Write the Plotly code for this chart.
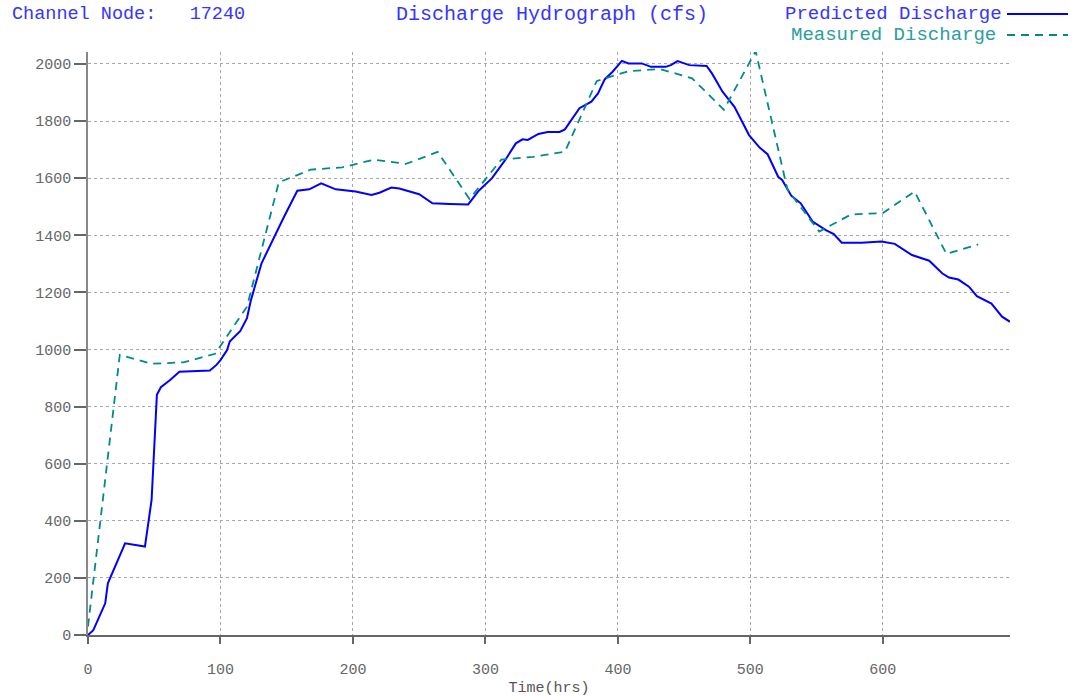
import plotly.graph_objects as go

# ---- data ----
pred_hours = [0, 4, 13, 15, 28, 43, 48, 50, 52, 55, 62, 69, 82, 92, 97, 100, 105, 107, 115, 120,
              123, 131, 148, 158, 167, 176, 187, 202, 214, 220, 229, 235, 250, 260, 273, 287, 295,
              305, 315, 323, 328, 332, 340, 347, 356, 360, 371, 380, 385, 390, 396, 403, 408, 418,
              425, 436, 440, 445, 454, 467, 471, 479, 488, 499, 507, 513, 521, 524, 531, 538, 547,
              557, 563, 569, 584, 599, 609, 622, 635, 645, 650, 657, 665, 671, 682, 690, 696]
pred_cfs = [0, 17, 111, 181, 321, 310, 473, 660, 841, 868, 893, 922, 925, 926, 946, 963, 998, 1028,
            1065, 1110, 1173, 1302, 1465, 1556, 1561, 1582, 1561, 1553, 1541, 1549, 1567, 1564, 1544,
            1512, 1510, 1508, 1556, 1600, 1664, 1722, 1736, 1734, 1755, 1762, 1762, 1771, 1845, 1868,
            1897, 1946, 1973, 2011, 2002, 2002, 1990, 1990, 1996, 2010, 1996, 1993, 1967, 1903, 1850,
            1751, 1707, 1684, 1605, 1594, 1538, 1512, 1448, 1418, 1404, 1374, 1374, 1378, 1370, 1331,
            1311, 1266, 1252, 1245, 1220, 1187, 1161, 1115, 1097]

meas_hours = [0, 24, 48, 72, 96, 120, 144, 168, 192, 216, 240, 264, 288, 312, 336, 360, 384, 408,
              432, 456, 480, 504, 528, 552, 576, 600, 624, 648, 672]
meas_cfs = [30, 981, 950, 955, 985, 1150, 1585, 1630, 1638, 1665, 1650, 1692, 1527, 1665, 1675, 1693,
            1940, 1975, 1982, 1950, 1840, 2045, 1560, 1413, 1473, 1478, 1553, 1335, 1368]

x_ticks = [0, 100, 200, 300, 400, 500, 600]
y_ticks = [0, 200, 400, 600, 800, 1000, 1200, 1400, 1600, 1800, 2000]

node_label = "Channel Node:   17240"
title_text = "Discharge Hydrograph (cfs)"
pred_name = "Predicted Discharge"
meas_name = "Measured Discharge"
x_title = "Time(hrs)"

# ---- layout geometry (pixels) ----
W, H = 1083, 697
L, R, T, B = 88, 1010, 52, 635
PW, PH = R - L, B - T

def px(x):
    return (x - L) / PW

def py(y):
    return (B - y) / PH

BLUE = "#0000ff"
TEAL = "#008b8b"
FONT = "Liberation Mono"

fig = go.Figure()
fig.add_trace(go.Scatter(x=pred_hours, y=pred_cfs, mode="lines", name=pred_name,
                         line=dict(color=BLUE, width=2), showlegend=False))
fig.add_trace(go.Scatter(x=meas_hours, y=meas_cfs, mode="lines", name=meas_name,
                         line=dict(color=TEAL, width=1.8, dash="8px,6px"), showlegend=False))

fig.update_layout(
    width=W, height=H,
    margin=dict(l=L, r=W - R, t=T, b=H - B, pad=0, autoexpand=False),
    paper_bgcolor="white", plot_bgcolor="white",
    font=dict(family=FONT, color="#666666", size=15),
    showlegend=False,
)
fig.update_xaxes(range=[0, 696], tickvals=x_ticks, ticktext=[str(v) for v in x_ticks],
                 showgrid=True, gridcolor="#a8a8a8", griddash="dot", gridwidth=1,
                 showline=True, linecolor="#666666", linewidth=1.5,
                 ticks="outside", ticklen=7, tickcolor="#666666", tickwidth=1.5,
                 ticklabelstandoff=12, zeroline=False, automargin=False,
                 title=dict(text=x_title, font=dict(size=15, color="#555555"), standoff=8),
                 tickfont=dict(size=15, color="#666666"))
fig.update_yaxes(range=[0, 2042], tickvals=y_ticks, ticktext=[str(v) for v in y_ticks],
                 showgrid=True, gridcolor="#a8a8a8", griddash="dot", gridwidth=1,
                 showline=True, linecolor="#888888", linewidth=1.5,
                 ticks="outside", ticklen=12, tickcolor="#666666", tickwidth=1.5,
                 ticklabelstandoff=0, zeroline=False, automargin=False,
                 tickfont=dict(size=15, color="#666666"))

annos = [
    dict(text=node_label, x=px(10), y=py(15), xanchor="left", yanchor="middle",
         font=dict(size=18.5, color="#3535ff")),
    dict(text=title_text, x=px(552), y=py(15), xanchor="center", yanchor="middle",
         font=dict(size=20, color="#3535ff")),
    dict(text=pred_name, x=px(1004), y=py(14), xanchor="right", yanchor="middle",
         font=dict(size=19, color="#3535ff")),
    dict(text=meas_name, x=px(998), y=py(35), xanchor="right", yanchor="middle",
         font=dict(size=19, color="#2a9d9d")),
]
for a in annos:
    a.update(xref="paper", yref="paper", showarrow=False)
fig.update_layout(annotations=annos)

fig.add_shape(type="line", xref="paper", yref="paper", x0=px(1007), x1=px(1068), y0=py(14), y1=py(14),
              line=dict(color=BLUE, width=2))
fig.add_shape(type="line", xref="paper", yref="paper", x0=px(1007), x1=px(1068), y0=py(35), y1=py(35),
              line=dict(color=TEAL, width=2, dash="8px,6px"))

fig.write_html("out.html", config={"displayModeBar": False},
               post_script="document.body.style.margin='0';")
